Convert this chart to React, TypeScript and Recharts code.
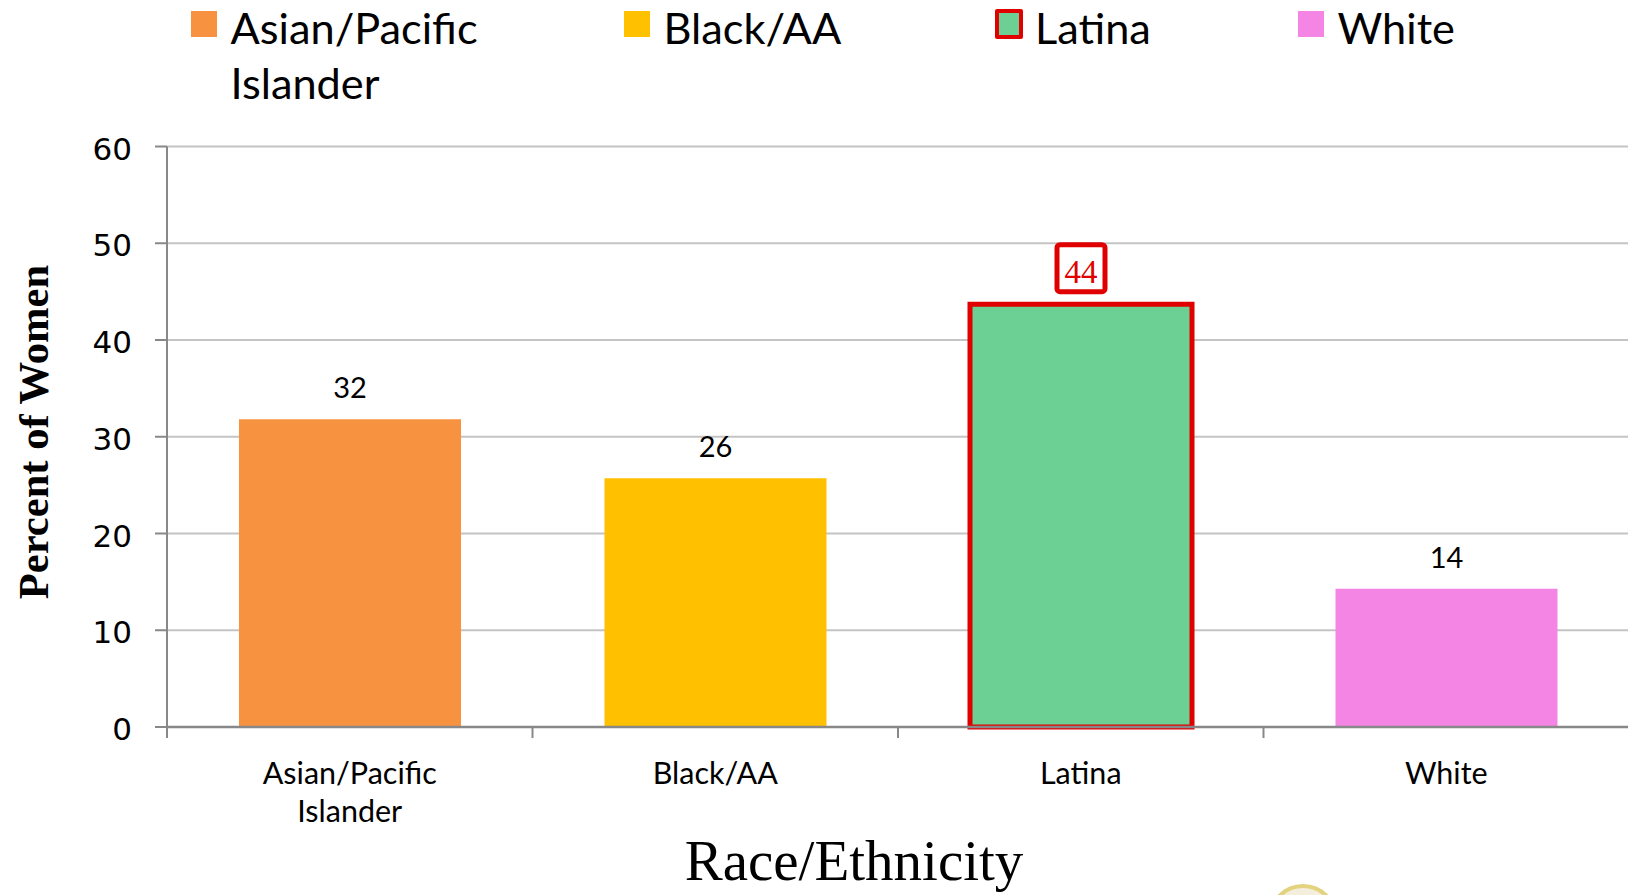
import React from 'react';
import { BarChart, Bar, XAxis, YAxis, CartesianGrid, Legend, LabelList, Cell } from 'recharts';

// ---- data ----
const categories = ['Asian/Pacific Islander', 'Black/AA', 'Latina', 'White'];
const categoryTickLines = [['Asian/Pacific', 'Islander'], ['Black/AA'], ['Latina'], ['White']];
const legendLines = [['Asian/Pacific', 'Islander'], ['Black/AA'], ['Latina'], ['White']];
const percentWomen = [31.8, 25.7, 43.7, 14.3];
const valueLabels = ['32', '26', '44', '14'];
const barColors = ['#F79240', '#FFC000', '#6CCF93', '#F485E5'];
const yTicks = [0, 10, 20, 30, 40, 50, 60];
const highlightIndex = 2;
const xTitle = 'Race/Ethnicity';
const yTitle = 'Percent of Women';

const data = categories.map((name, i) => ({ name, value: percentWomen[i], label: valueLabels[i] }));

// ---- layout ----
const CHART_W = 1630;
const CHART_H = 895;
const PLOT_LEFT = 167;
const PLOT_RIGHT = 1629;
const PLOT_TOP = 146.5;
const PLOT_BOTTOM = 727;
const BAND = (PLOT_RIGHT - PLOT_LEFT) / categories.length;
const AXIS_GREY = '#888888';
const RED = '#E00000';
const LEGEND_X = [191, 624, 995, 1298];

const CategoryTick = (props: any) => {
  const { x, y, payload } = props;
  const idx = categories.indexOf(payload.value);
  const lines = categoryTickLines[idx] || [payload.value];
  const bx = x - BAND / 2;
  return (
    <g>
      <line x1={bx} y1={y} x2={bx} y2={y + 11} stroke={AXIS_GREY} strokeWidth={2} />
      {lines.map((l: string, i: number) => (
        <text key={i} x={x} y={y + 56.5 + i * 38.5} textAnchor="middle" fontFamily="Lato" fontSize={30.5} fill="#000">
          {l}
        </text>
      ))}
    </g>
  );
};

const ValueTick = (props: any) => {
  const { x, y, payload } = props;
  return (
    <text x={x} y={y + 13} textAnchor="end" fontFamily="DejaVu Sans" fontSize={31} fill="#000">
      {payload.value}
    </text>
  );
};

const ValueLabel = (props: any) => {
  const { x, y, width, value } = props;
  const idx = typeof props.index === 'number' ? props.index : valueLabels.indexOf(String(value));
  const cx = Number(x) + Number(width) / 2;
  const base = Number(y) - 21;
  if (idx === highlightIndex) {
    return (
      <g>
        <rect x={cx - 24} y={base - 38.5} width={48} height={47} rx={3} fill="#fff" stroke={RED} strokeWidth={5} />
        <text x={cx} y={base} textAnchor="middle" fontFamily="Liberation Serif" fontSize={33} fill={RED}>
          {value}
        </text>
      </g>
    );
  }
  return (
    <text x={cx} y={base} textAnchor="middle" fontFamily="Lato" fontSize={29} fill="#000">
      {value}
    </text>
  );
};

const LegendContent = () => (
  <div style={{ position: 'relative', width: 1628, height: 110 }}>
    {categories.map((c, i) => {
      const hl = i === highlightIndex;
      const sq = hl
        ? { left: LEGEND_X[i], top: 8.5, width: 28, height: 30, boxSizing: 'border-box' as const, border: `4px solid ${RED}`, borderRadius: 2 }
        : { left: LEGEND_X[i], top: 10.5, width: 26, height: 26 };
      const textLeft = LEGEND_X[i] + (hl ? 40 : 39.5);
      return (
        <React.Fragment key={c}>
          <div style={{ position: 'absolute', background: barColors[i], ...sq }} />
          <div
            style={{
              position: 'absolute',
              left: textLeft,
              top: 0,
              fontFamily: 'Lato',
              fontSize: 43.3,
              lineHeight: '55px',
              color: '#000',
              whiteSpace: 'nowrap',
            }}
          >
            {legendLines[i].map((l, j) => (
              <div key={j}>{l}</div>
            ))}
          </div>
        </React.Fragment>
      );
    })}
  </div>
);

export default function App() {
  return (
    <div
      style={{
        position: 'absolute',
        left: 0,
        top: 0,
        width: 1628,
        height: 895,
        overflow: 'hidden',
        background: '#fff',
      }}
    >
      <BarChart
        width={CHART_W}
        height={CHART_H}
        data={data}
        margin={{ top: PLOT_TOP, right: CHART_W - PLOT_RIGHT, bottom: 0, left: 0 }}
        barSize={222}
      >
        <CartesianGrid vertical={false} stroke="#C4C4C4" strokeWidth={2} />
        <Legend
          layout="horizontal"
          verticalAlign="middle"
          align="center"
          wrapperStyle={{ top: 0, left: 0, width: 1628, height: 110 }}
          content={<LegendContent />}
        />
        <XAxis
          dataKey="name"
          height={CHART_H - PLOT_BOTTOM}
          tickLine={false}
          tickSize={0}
          tickMargin={0}
          interval={0}
          axisLine={{ stroke: AXIS_GREY, strokeWidth: 2.5 }}
          tick={<CategoryTick />}
          label={{
            content: () => (
              <text x={854} y={880} textAnchor="middle" fontFamily="Liberation Serif" fontSize={57} fill="#000">
                {xTitle}
              </text>
            ),
          }}
        />
        <YAxis
          width={PLOT_LEFT}
          domain={[0, 60]}
          ticks={yTicks}
          interval={0}
          tickSize={12}
          tickMargin={23}
          axisLine={{ stroke: AXIS_GREY, strokeWidth: 2 }}
          tickLine={{ stroke: AXIS_GREY, strokeWidth: 2 }}
          tick={<ValueTick />}
          label={{
            content: () => (
              <text
                x={48}
                y={432}
                transform="rotate(-90 48 432)"
                textAnchor="middle"
                fontFamily="Liberation Serif"
                fontWeight="bold"
                fontSize={42.6}
                fill="#000"
              >
                {yTitle}
              </text>
            ),
          }}
        />
        <Bar dataKey="value" isAnimationActive={false}>
          {data.map((d, i) => (
            <Cell
              key={d.name}
              fill={barColors[i]}
              stroke={i === highlightIndex ? RED : 'none'}
              strokeWidth={i === highlightIndex ? 5 : 0}
            />
          ))}
          <LabelList dataKey="label" content={<ValueLabel />} />
        </Bar>
      </BarChart>
      <div
        style={{
          position: 'absolute',
          left: 1268,
          top: 884,
          width: 70,
          height: 70,
          borderRadius: '50%',
          boxSizing: 'border-box',
          border: '4px solid #E3D27E',
          background: '#F4EEDC',
        }}
      />
    </div>
  );
}
